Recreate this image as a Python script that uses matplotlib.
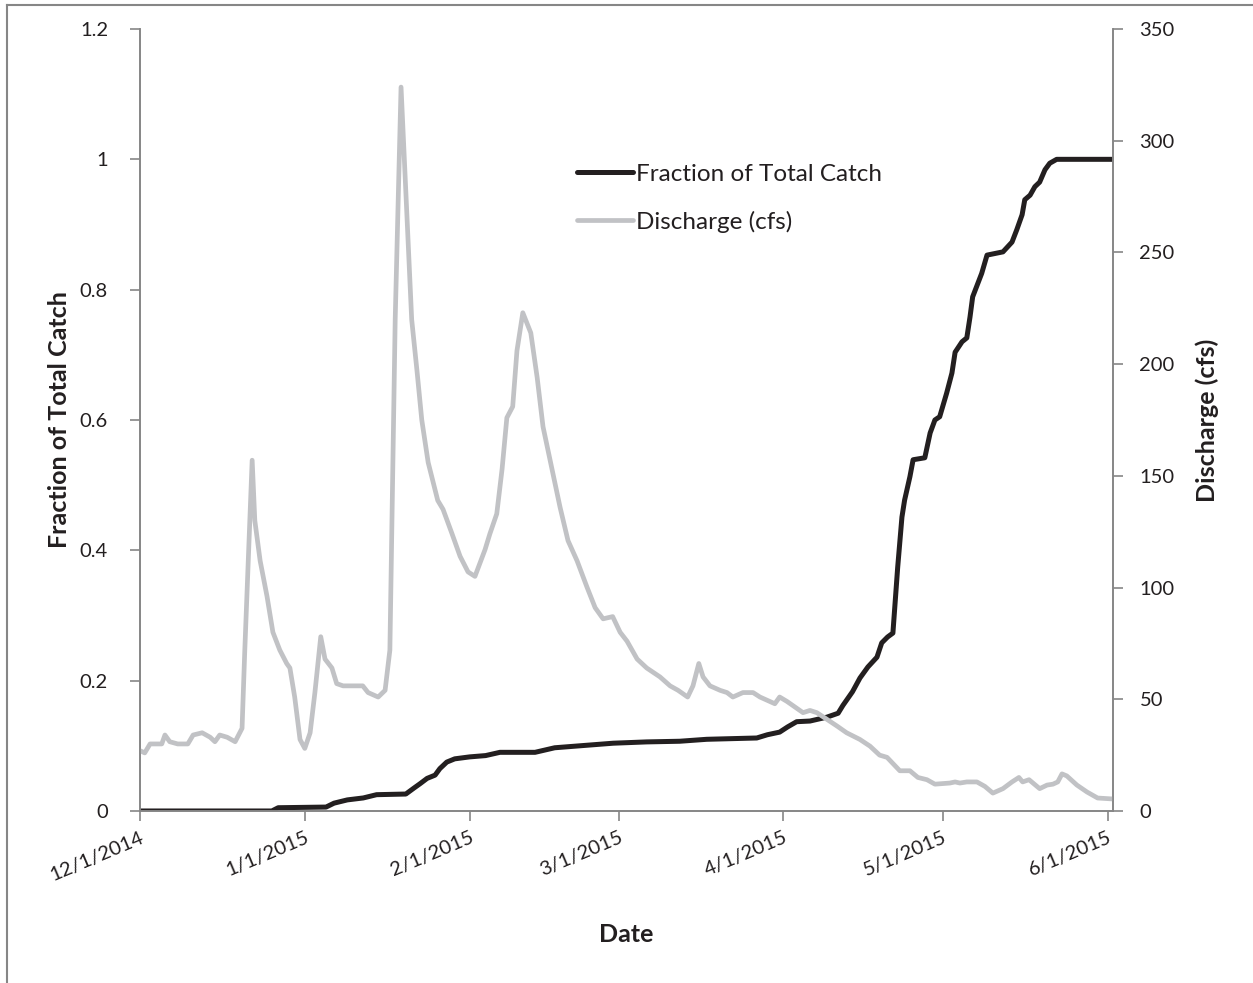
import numpy as np
import pandas as pd
import matplotlib
matplotlib.use('Agg')
import matplotlib.pyplot as plt
from matplotlib.ticker import FuncFormatter
from matplotlib.lines import Line2D

plt.rcParams['font.family'] = ['Lato', 'DejaVu Sans']

## Data (days after 12/1/2014)
start = pd.Timestamp('2014-12-01')

catch_day = [0, 24.8, 26, 35, 36.5, 39, 42, 44.5, 50,
             51.5, 52.7, 54, 55.5, 56.4, 57.7, 59.2,
             62, 65, 67.7, 74.3, 78, 82.7, 89, 95.3, 101.5, 106.6,
             116, 118, 120.3, 121.8, 123.5, 126, 129.2, 131.3, 132.2, 134,
             135.4, 136.9, 138.6, 139.5, 140.6, 141.6, 142.5, 143.3, 143.8, 144.8,
             145.4, 147.6, 148.6, 149.5, 150.4, 151.7, 152.7, 153.3, 154.6, 155.5,
             156.1, 156.6, 158.3, 159.3, 162.3, 164, 164.9, 165.9, 166.4, 167.4,
             168.3, 169.2, 170.2, 171.1, 172.4, 182.8]
catch_frac = [0, 0, 0.005, 0.006, 0.012, 0.017, 0.02, 0.025, 0.026,
              0.035, 0.042, 0.05, 0.055, 0.065, 0.075, 0.08,
              0.083, 0.085, 0.09, 0.09, 0.097, 0.1, 0.104, 0.106, 0.107, 0.11,
              0.112, 0.117, 0.121, 0.129, 0.137, 0.138, 0.144, 0.15, 0.162, 0.183,
              0.204, 0.221, 0.236, 0.258, 0.267, 0.273, 0.374, 0.451, 0.477, 0.513,
              0.539, 0.542, 0.58, 0.6, 0.605, 0.641, 0.672, 0.704, 0.72, 0.726,
              0.758, 0.789, 0.825, 0.853, 0.858, 0.873, 0.892, 0.915, 0.938, 0.945,
              0.958, 0.965, 0.984, 0.994, 1.0, 1.0]

flow_day = [0, 0.9, 1.9, 4.1, 4.7, 5.6, 7.1, 9.0, 10.0, 11.7,
            13.2, 14.1, 15.0, 16.4, 17.9, 19.2, 19.7, 21.1, 21.6, 22.6,
            23.9, 25.0, 26.3, 27.6, 28.2, 29.1, 30.1, 31.0, 32.0, 32.9,
            34.0, 34.8, 36.1, 37.0, 38.2, 41.9, 42.9, 44.8, 46.1, 47.0,
            48.0, 49.1, 51.1, 52.1, 53.0, 54.2, 56.0, 57.0, 58.7, 60.2,
            61.7, 63.0, 64.9, 65.8, 67.1, 68.1, 69.0, 70.1, 70.9, 72.0,
            73.5, 74.7, 75.8, 77.5, 79.0, 80.5, 82.2, 84.1, 85.6, 87.1,
            88.9, 90.3, 91.6, 93.5, 95.3, 97.8, 99.7, 101.2, 103.0, 104.0,
            105.1, 105.9, 107.2, 109.1, 110.4, 111.5, 113.4, 115.3, 116.6, 118.5,
            119.4, 120.3, 121.7, 123.5, 124.7, 126.0, 127.3, 129.2, 131.1, 132.9,
            135.4, 137.3, 139.1, 140.5, 142.9, 144.8, 146.3, 148.0, 149.5, 152.3,
            153.3, 154.2, 155.5, 157.4, 158.9, 160.4, 162.3, 164.0, 165.3, 166.0,
            167.2, 169.2, 170.6, 171.7, 172.6, 173.4, 174.3, 176.2, 178.1, 180.1,
            182.8]
flow_cfs = [27, 26, 30, 30, 34, 31, 30, 30, 34, 35,
            33, 31, 34, 33, 31, 37, 71, 157, 130, 112,
            96, 80, 72, 66, 64, 51, 32, 28, 35, 53,
            78, 68, 64, 57, 56, 56, 53, 51, 54, 72,
            220, 324, 220, 197, 175, 156, 139, 135, 124, 114,
            107, 105, 117, 124, 133, 153, 176, 181, 206, 223,
            214, 194, 172, 153, 136, 121, 112, 100, 91, 86,
            87, 80, 76, 68, 64, 60, 56, 54, 51, 56,
            66, 60, 56, 54, 53, 51, 53, 53, 51, 49,
            48, 51, 49, 46, 44, 45, 44, 41, 38, 35,
            32, 29, 25, 24, 18, 18, 15, 14, 12, 12.5,
            13, 12.5, 13, 13, 11, 8, 10, 13, 15, 13,
            14, 10, 11.6, 12, 13, 16.6, 15.7, 11.6, 8.5, 5.8,
            5.4]

catch_dates = start + pd.to_timedelta(catch_day, unit='D')
flow_dates = start + pd.to_timedelta(flow_day, unit='D')

## Plot
black = '#231f20'
grey = '#c1c2c5'
axis_col = '#868686'
fs_tick = 14.5
fs_leg = 17.5
fs_lab = 18

fig = plt.figure(figsize=(12.53, 9.83), dpi=100)
ax = fig.add_axes([0.1117, 0.175, 0.7766, 0.7955])
ax2 = ax.twinx()

l1, = ax.plot(catch_dates, catch_frac, color=black, lw=3.6,
              solid_joinstyle='round', solid_capstyle='round', label='Fraction of Total Catch')
l2, = ax2.plot(flow_dates, flow_cfs, color=grey, lw=3.4,
               solid_joinstyle='round', solid_capstyle='round', label='Discharge (cfs)')

ax.set_xlim(start, start + pd.Timedelta(days=183))
ax.set_ylim(0, 1.2)
ax2.set_ylim(0, 350)
ax.set_yticks(np.arange(0, 1.21, 0.2))
ax2.set_yticks(np.arange(0, 351, 50))
ax.yaxis.set_major_formatter(FuncFormatter(lambda v, p: '%g' % round(v, 2)))

month_ticks = pd.date_range('2014-12-01', '2015-06-01', freq='MS')
ax.set_xticks(month_ticks)
ax.set_xticklabels([f'{d.month}/{d.day}/{d.year}' for d in month_ticks],
                   rotation=23, ha='right', rotation_mode='anchor')

for a in (ax, ax2):
    a.spines['top'].set_visible(False)
    for s in ('left', 'right', 'bottom'):
        a.spines[s].set_color(axis_col)
        a.spines[s].set_linewidth(1.2)
    a.tick_params(direction='out', length=7, width=1.2, color=axis_col,
                  labelsize=fs_tick, labelcolor=black)
ax.tick_params(axis='y', pad=16)
ax.tick_params(axis='x', pad=6)
ax2.tick_params(axis='y', pad=12)

ax.set_xlabel('Date', fontsize=fs_lab, fontweight='bold', color=black, labelpad=28)
ax.set_ylabel('Fraction of Total Catch', fontsize=fs_lab, fontweight='bold', color=black, labelpad=6)
ax2.set_ylabel('Discharge (cfs)', fontsize=fs_lab, fontweight='bold', color=black, labelpad=15)

leg = ax2.legend(handles=[l1, l2], loc='upper left', bbox_to_anchor=(0.449, 0.828),
                 frameon=False, fontsize=fs_leg, handlelength=2.3, handletextpad=0.12,
                 labelspacing=1.08, borderpad=0, borderaxespad=0)
for t in leg.get_texts():
    t.set_color(black)

# chart border
fig.add_artist(Line2D([0.0056, 0.0056], [0, 0.995], transform=fig.transFigure, color=axis_col, lw=1.5))
fig.add_artist(Line2D([0.0056, 1], [0.995, 0.995], transform=fig.transFigure, color=axis_col, lw=1.5))

fig.savefig('out.png', dpi=100)
